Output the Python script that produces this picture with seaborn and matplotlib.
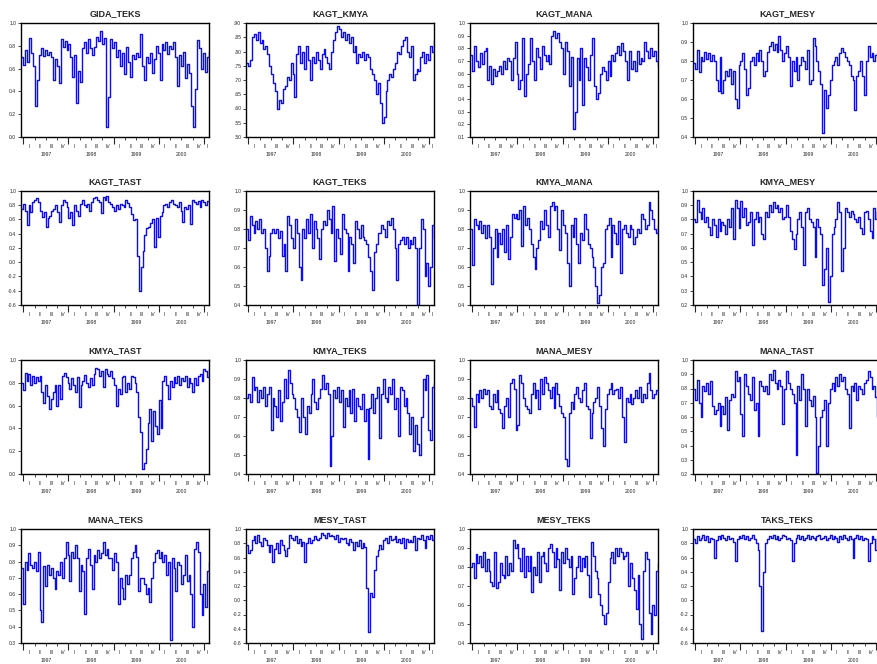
import numpy as np
import pandas as pd
import matplotlib
matplotlib.use("Agg")
import matplotlib.pyplot as plt
import seaborn as sns

# Rolling correlations between sector pairs, sampled along the period
titles = ["GIDA_TEKS", "KAGT_KMYA", "KAGT_MANA", "KAGT_MESY",
          "KAGT_TAST", "KAGT_TEKS", "KMYA_MANA", "KMYA_MESY",
          "KMYA_TAST", "KMYA_TEKS", "MANA_MESY", "MANA_TAST",
          "MANA_TEKS", "MESY_TAST", "MESY_TEKS", "TAKS_TEKS"]

gida_teks = [0.70, 0.63, 0.76, 0.66, 0.87, 0.74, 0.62, 0.27, 0.50, 0.72,
             0.78, 0.71, 0.76, 0.72, 0.75, 0.70, 0.50, 0.68, 0.62, 0.47,
             0.86, 0.79, 0.84, 0.76, 0.82, 0.70, 0.53, 0.72, 0.30, 0.58,
             0.48, 0.78, 0.83, 0.74, 0.86, 0.78, 0.72, 0.79, 0.88, 0.84,
             0.93, 0.82, 0.87, 0.09, 0.35, 0.86, 0.78, 0.83, 0.70, 0.76,
             0.62, 0.74, 0.55, 0.79, 0.66, 0.53, 0.72, 0.68, 0.74, 0.70,
             0.90, 0.62, 0.50, 0.70, 0.65, 0.74, 0.56, 0.68, 0.80, 0.74,
             0.50, 0.82, 0.76, 0.83, 0.73, 0.80, 0.77, 0.83, 0.70, 0.45,
             0.72, 0.62, 0.75, 0.52, 0.64, 0.56, 0.27, 0.09, 0.42, 0.85,
             0.78, 0.60, 0.74, 0.57, 0.70, 0.75]

kagt_kmya = [0.76, 0.75, 0.77, 0.85, 0.86, 0.84, 0.87, 0.83, 0.84, 0.81,
             0.82, 0.79, 0.75, 0.72, 0.69, 0.66, 0.60, 0.63, 0.62, 0.67,
             0.68, 0.71, 0.70, 0.76, 0.72, 0.64, 0.79, 0.82, 0.76, 0.80,
             0.74, 0.82, 0.77, 0.70, 0.78, 0.76, 0.80, 0.77, 0.74, 0.79,
             0.81, 0.78, 0.76, 0.74, 0.80, 0.84, 0.87, 0.89, 0.88, 0.85,
             0.87, 0.84, 0.86, 0.83, 0.85, 0.80, 0.82, 0.76, 0.79, 0.78,
             0.80, 0.77, 0.79, 0.78, 0.74, 0.72, 0.70, 0.65, 0.69, 0.62,
             0.55, 0.57, 0.66, 0.70, 0.72, 0.71, 0.74, 0.76, 0.80, 0.79,
             0.82, 0.84, 0.85, 0.80, 0.78, 0.82, 0.70, 0.72, 0.74, 0.73,
             0.78, 0.80, 0.76, 0.79, 0.77, 0.82, 0.80, 0.84]

kagt_mana = [0.75, 0.62, 0.82, 0.70, 0.65, 0.76, 0.68, 0.78, 0.80, 0.55,
             0.66, 0.52, 0.64, 0.58, 0.62, 0.66, 0.60, 0.70, 0.64, 0.72,
             0.70, 0.55, 0.72, 0.85, 0.60, 0.48, 0.55, 0.88, 0.42, 0.60,
             0.68, 0.88, 0.70, 0.55, 0.80, 0.73, 0.64, 0.82, 0.75, 0.70,
             0.75, 0.68, 0.90, 0.94, 0.88, 0.92, 0.85, 0.80, 0.60, 0.85,
             0.78, 0.50, 0.73, 0.16, 0.30, 0.72, 0.55, 0.80, 0.35, 0.72,
             0.65, 0.55, 0.75, 0.88, 0.50, 0.40, 0.45, 0.60, 0.65, 0.62,
             0.55, 0.70, 0.58, 0.75, 0.70, 0.76, 0.82, 0.75, 0.84, 0.78,
             0.70, 0.55, 0.78, 0.64, 0.70, 0.62, 0.78, 0.68, 0.72, 0.70,
             0.85, 0.78, 0.72, 0.80, 0.74, 0.78, 0.70, 0.66]

kagt_mesy = [0.79, 0.76, 0.86, 0.74, 0.82, 0.80, 0.85, 0.81, 0.84, 0.80,
             0.83, 0.80, 0.70, 0.64, 0.82, 0.63, 0.70, 0.75, 0.72, 0.76,
             0.68, 0.75, 0.60, 0.55, 0.78, 0.80, 0.84, 0.76, 0.62, 0.66,
             0.80, 0.82, 0.78, 0.84, 0.80, 0.86, 0.80, 0.72, 0.75, 0.85,
             0.88, 0.90, 0.86, 0.89, 0.85, 0.93, 0.86, 0.80, 0.84, 0.88,
             0.82, 0.67, 0.80, 0.75, 0.82, 0.70, 0.78, 0.82, 0.80, 0.76,
             0.86, 0.68, 0.70, 0.92, 0.88, 0.80, 0.75, 0.68, 0.42, 0.65,
             0.55, 0.62, 0.70, 0.78, 0.80, 0.82, 0.78, 0.84, 0.87, 0.85,
             0.82, 0.80, 0.78, 0.72, 0.70, 0.54, 0.72, 0.75, 0.80, 0.72,
             0.62, 0.80, 0.88, 0.82, 0.84, 0.80, 0.83, 0.84, 0.82, 0.84]

kagt_tast = [0.75, 0.82, 0.72, 0.52, 0.80, 0.70, 0.85, 0.87, 0.90, 0.84,
             0.72, 0.64, 0.70, 0.50, 0.62, 0.65, 0.72, 0.75, 0.80, 0.70,
             0.57, 0.80, 0.88, 0.85, 0.78, 0.62, 0.70, 0.52, 0.80, 0.72,
             0.65, 0.82, 0.88, 0.80, 0.78, 0.82, 0.72, 0.85, 0.90, 0.92,
             0.88, 0.85, 0.69, 0.92, 0.88, 0.93, 0.85, 0.82, 0.78, 0.72,
             0.80, 0.75, 0.82, 0.80, 0.78, 0.88, 0.83, 0.78, 0.68, 0.59,
             0.60, 0.09, -0.40, -0.06, 0.16, 0.38, 0.48, 0.50, 0.55, 0.60,
             0.21, 0.62, 0.35, 0.65, 0.70, 0.80, 0.82, 0.78, 0.85, 0.88,
             0.82, 0.80, 0.78, 0.85, 0.72, 0.57, 0.78, 0.75, 0.80, 0.53,
             0.88, 0.85, 0.82, 0.86, 0.78, 0.88, 0.84, 0.80, 0.86, 0.85]

kagt_teks = [0.80, 0.74, 0.87, 0.82, 0.78, 0.84, 0.80, 0.85, 0.78, 0.80,
             0.70, 0.58, 0.66, 0.78, 0.80, 0.78, 0.80, 0.75, 0.79, 0.66,
             0.72, 0.58, 0.87, 0.82, 0.75, 0.70, 0.85, 0.78, 0.60, 0.53,
             0.80, 0.75, 0.85, 0.78, 0.88, 0.70, 0.84, 0.80, 0.75, 0.64,
             0.80, 0.84, 0.82, 0.90, 0.85, 0.78, 0.92, 0.63, 0.80, 0.75,
             0.67, 0.88, 0.80, 0.78, 0.58, 0.76, 0.72, 0.62, 0.84, 0.80,
             0.75, 0.82, 0.76, 0.74, 0.72, 0.65, 0.58, 0.48, 0.68, 0.72,
             0.78, 0.78, 0.82, 0.80, 0.76, 0.84, 0.82, 0.86, 0.80, 0.70,
             0.53, 0.72, 0.74, 0.76, 0.72, 0.76, 0.70, 0.74, 0.72, 0.76,
             0.70, 0.40, 0.70, 0.85, 0.80, 0.55, 0.62, 0.50, 0.60, 0.82,
             0.75]

kmya_mana = [0.80, 0.61, 0.85, 0.82, 0.80, 0.84, 0.78, 0.82, 0.75, 0.82,
             0.76, 0.51, 0.70, 0.80, 0.65, 0.78, 0.72, 0.80, 0.68, 0.82,
             0.64, 0.76, 0.88, 0.86, 0.88, 0.85, 0.90, 0.71, 0.92, 0.82,
             0.86, 0.80, 0.72, 0.65, 0.59, 0.70, 0.74, 0.84, 0.80, 0.90,
             0.82, 0.76, 0.92, 0.94, 0.90, 0.92, 0.80, 0.69, 0.90, 0.82,
             0.78, 0.62, 0.50, 0.82, 0.76, 0.86, 0.72, 0.62, 0.78, 0.74,
             0.88, 0.80, 0.72, 0.70, 0.65, 0.60, 0.50, 0.41, 0.45, 0.60,
             0.62, 0.80, 0.82, 0.86, 0.65, 0.82, 0.78, 0.72, 0.84, 0.57,
             0.80, 0.82, 0.78, 0.76, 0.82, 0.80, 0.72, 0.76, 0.80, 0.78,
             0.88, 0.85, 0.80, 0.82, 0.94, 0.90, 0.85, 0.80, 0.78, 0.82]

kmya_mesy = [0.80, 0.78, 0.94, 0.85, 0.80, 0.88, 0.78, 0.82, 0.75, 0.69,
             0.80, 0.76, 0.68, 0.80, 0.72, 0.78, 0.76, 0.70, 0.80, 0.75,
             0.88, 0.66, 0.94, 0.88, 0.74, 0.93, 0.82, 0.88, 0.76, 0.78,
             0.85, 0.62, 0.80, 0.85, 0.78, 0.82, 0.70, 0.66, 0.85, 0.82,
             0.90, 0.85, 0.92, 0.88, 0.90, 0.85, 0.88, 0.80, 0.82, 0.90,
             0.82, 0.72, 0.66, 0.59, 0.70, 0.80, 0.85, 0.75, 0.48, 0.85,
             0.88, 0.80, 0.78, 0.75, 0.54, 0.80, 0.75, 0.70, 0.34, 0.45,
             0.60, 0.22, 0.40, 0.70, 0.75, 0.80, 0.92, 0.85, 0.44, 0.60,
             0.88, 0.85, 0.82, 0.86, 0.84, 0.80, 0.78, 0.82, 0.74, 0.70,
             0.85, 0.86, 0.80, 0.72, 0.67, 0.88, 0.80, 0.85, 0.90, 0.80]

kmya_tast = [0.80, 0.74, 0.89, 0.82, 0.88, 0.78, 0.86, 0.80, 0.85, 0.82,
             0.86, 0.72, 0.62, 0.78, 0.68, 0.57, 0.66, 0.72, 0.78, 0.60,
             0.78, 0.66, 0.86, 0.89, 0.85, 0.80, 0.75, 0.84, 0.78, 0.72,
             0.85, 0.59, 0.78, 0.82, 0.87, 0.80, 0.76, 0.84, 0.78, 0.88,
             0.93, 0.92, 0.86, 0.90, 0.76, 0.92, 0.88, 0.86, 0.90, 0.84,
             0.78, 0.60, 0.75, 0.70, 0.85, 0.86, 0.72, 0.80, 0.75, 0.86,
             0.85, 0.80, 0.72, 0.50, 0.37, 0.04, 0.10, 0.22, 0.45, 0.57,
             0.29, 0.55, 0.42, 0.35, 0.65, 0.40, 0.82, 0.86, 0.78, 0.66,
             0.82, 0.76, 0.85, 0.80, 0.86, 0.78, 0.84, 0.82, 0.86, 0.76,
             0.84, 0.80, 0.72, 0.84, 0.78, 0.86, 0.88, 0.82, 0.92, 0.90,
             0.85, 0.92]

kmya_teks = [0.80, 0.82, 0.78, 0.91, 0.84, 0.86, 0.78, 0.84, 0.80, 0.86,
             0.76, 0.82, 0.86, 0.63, 0.80, 0.76, 0.70, 0.84, 0.68, 0.78,
             0.90, 0.80, 0.95, 0.88, 0.82, 0.80, 0.74, 0.70, 0.62, 0.80,
             0.70, 0.61, 0.76, 0.72, 0.82, 0.90, 0.78, 0.74, 0.80, 0.85,
             0.92, 0.85, 0.88, 0.82, 0.44, 0.60, 0.84, 0.80, 0.86, 0.78,
             0.84, 0.65, 0.80, 0.76, 0.84, 0.72, 0.85, 0.68, 0.80, 0.76,
             0.74, 0.82, 0.68, 0.74, 0.48, 0.75, 0.82, 0.72, 0.80, 0.86,
             0.59, 0.82, 0.90, 0.80, 0.78, 0.86, 0.82, 0.90, 0.74, 0.80,
             0.60, 0.86, 0.84, 0.76, 0.80, 0.72, 0.61, 0.70, 0.52, 0.66,
             0.56, 0.50, 0.70, 0.90, 0.84, 0.92, 0.63, 0.58, 0.86, 0.88]

mana_mesy = [0.80, 0.76, 0.65, 0.82, 0.78, 0.84, 0.80, 0.85, 0.82, 0.84,
             0.76, 0.74, 0.82, 0.78, 0.84, 0.74, 0.72, 0.64, 0.76, 0.80,
             0.70, 0.88, 0.90, 0.85, 0.63, 0.66, 0.92, 0.88, 0.80, 0.76,
             0.74, 0.72, 0.82, 0.88, 0.80, 0.84, 0.74, 0.90, 0.82, 0.91,
             0.88, 0.84, 0.80, 0.86, 0.75, 0.88, 0.82, 0.76, 0.72, 0.70,
             0.48, 0.44, 0.72, 0.78, 0.74, 0.82, 0.86, 0.80, 0.78, 0.84,
             0.88, 0.76, 0.74, 0.59, 0.72, 0.78, 0.80, 0.86, 0.76, 0.64,
             0.55, 0.74, 0.82, 0.85, 0.88, 0.82, 0.84, 0.85, 0.80, 0.86,
             0.70, 0.57, 0.80, 0.78, 0.82, 0.77, 0.80, 0.84, 0.80, 0.86,
             0.78, 0.82, 0.80, 0.88, 0.93, 0.84, 0.80, 0.82, 0.84, 0.83]

mana_tast = [0.80, 0.72, 0.86, 0.70, 0.60, 0.82, 0.78, 0.84, 0.76, 0.85,
             0.68, 0.62, 0.65, 0.70, 0.54, 0.68, 0.62, 0.74, 0.51, 0.72,
             0.76, 0.74, 0.92, 0.85, 0.88, 0.62, 0.47, 0.90, 0.82, 0.76,
             0.72, 0.88, 0.65, 0.70, 0.47, 0.85, 0.82, 0.78, 0.82, 0.76,
             0.90, 0.86, 0.93, 0.84, 0.80, 0.86, 0.82, 0.55, 0.80, 0.92,
             0.84, 0.80, 0.76, 0.70, 0.33, 0.82, 0.72, 0.90, 0.80, 0.54,
             0.80, 0.72, 0.68, 0.75, 0.60, 0.21, 0.40, 0.60, 0.65, 0.72,
             0.40, 0.70, 0.80, 0.84, 0.78, 0.88, 0.82, 0.90, 0.85, 0.88,
             0.80, 0.76, 0.52, 0.82, 0.78, 0.84, 0.72, 0.82, 0.80, 0.76,
             0.84, 0.86, 0.92, 0.88, 0.80, 0.82, 0.74, 0.60, 0.80, 0.84]

mana_teks = [0.76, 0.54, 0.80, 0.75, 0.85, 0.78, 0.76, 0.80, 0.74, 0.86,
             0.50, 0.43, 0.77, 0.65, 0.78, 0.72, 0.76, 0.70, 0.63, 0.74,
             0.72, 0.80, 0.70, 0.82, 0.92, 0.84, 0.68, 0.86, 0.82, 0.90,
             0.82, 0.62, 0.78, 0.74, 0.48, 0.82, 0.88, 0.78, 0.63, 0.84,
             0.80, 0.87, 0.82, 0.85, 0.92, 0.84, 0.88, 0.82, 0.82, 0.75,
             0.85, 0.80, 0.54, 0.70, 0.64, 0.57, 0.72, 0.66, 0.72, 0.82,
             0.86, 0.90, 0.83, 0.62, 0.70, 0.70, 0.66, 0.60, 0.64, 0.55,
             0.70, 0.80, 0.85, 0.87, 0.82, 0.86, 0.80, 0.84, 0.72, 0.80,
             0.32, 0.82, 0.76, 0.62, 0.80, 0.78, 0.66, 0.72, 0.84, 0.68,
             0.72, 0.60, 0.40, 0.88, 0.92, 0.86, 0.60, 0.47, 0.66, 0.52,
             0.74, 0.80]

mesy_tast = [0.78, 0.66, 0.70, 0.85, 0.90, 0.80, 0.92, 0.82, 0.76, 0.88,
             0.85, 0.78, 0.68, 0.78, 0.54, 0.72, 0.80, 0.66, 0.85, 0.78,
             0.70, 0.62, 0.74, 0.92, 0.88, 0.85, 0.90, 0.80, 0.86, 0.76,
             0.82, 0.54, 0.80, 0.88, 0.80, 0.84, 0.90, 0.86, 0.84, 0.88,
             0.94, 0.92, 0.88, 0.94, 0.90, 0.92, 0.90, 0.86, 0.92, 0.82,
             0.88, 0.86, 0.88, 0.80, 0.78, 0.86, 0.82, 0.70, 0.82, 0.76,
             0.84, 0.74, 0.80, 0.75, 0.17, -0.45, 0.10, 0.05, 0.42, 0.62,
             0.70, 0.78, 0.72, 0.85, 0.88, 0.80, 0.90, 0.84, 0.86, 0.90,
             0.82, 0.86, 0.80, 0.88, 0.74, 0.86, 0.82, 0.84, 0.82, 0.90,
             0.70, 0.88, 0.86, 0.92, 0.84, 0.74, 0.90, 0.86, 0.92, 0.84,
             0.90]

mesy_teks = [0.80, 0.82, 0.74, 0.87, 0.82, 0.86, 0.80, 0.88, 0.78, 0.84,
             0.78, 0.72, 0.70, 0.88, 0.69, 0.72, 0.82, 0.76, 0.74, 0.86,
             0.76, 0.82, 0.78, 0.94, 0.90, 0.92, 0.85, 0.78, 0.90, 0.75,
             0.86, 0.78, 0.86, 0.67, 0.80, 0.76, 0.88, 0.72, 0.86, 0.88,
             0.82, 0.78, 0.90, 0.92, 0.88, 0.80, 0.90, 0.84, 0.68, 0.88,
             0.82, 0.90, 0.84, 0.80, 0.86, 0.66, 0.74, 0.80, 0.86, 0.78,
             0.85, 0.80, 0.86, 0.76, 0.64, 0.93, 0.86, 0.78, 0.74, 0.66,
             0.60, 0.55, 0.50, 0.56, 0.72, 0.85, 0.88, 0.82, 0.90, 0.86,
             0.90, 0.88, 0.84, 0.86, 0.88, 0.70, 0.82, 0.74, 0.68, 0.58,
             0.76, 0.50, 0.42, 0.78, 0.88, 0.84, 0.56, 0.45, 0.60, 0.55,
             0.78, 0.82]

taks_teks = [0.86, 0.80, 0.90, 0.84, 0.88, 0.92, 0.85, 0.90, 0.82, 0.88,
             0.86, 0.60, 0.84, 0.90, 0.86, 0.92, 0.88, 0.84, 0.90, 0.86,
             0.88, 0.82, 0.55, 0.86, 0.90, 0.88, 0.92, 0.86, 0.90, 0.84,
             0.88, 0.92, 0.86, 0.80, 0.70, 0.20, -0.43, 0.40, 0.80, 0.86,
             0.90, 0.88, 0.92, 0.86, 0.90, 0.84, 0.88, 0.92, 0.90, 0.86,
             0.88, 0.84, 0.55, 0.80, 0.88, 0.92, 0.86, 0.90, 0.84, 0.88,
             0.92, 0.86, 0.90, 0.88, 0.84, 0.90, 0.92, 0.86, 0.88, 0.90,
             0.84, 0.88, 0.92, 0.86, 0.90, 0.88, 0.82, 0.90, 0.86, 0.92,
             0.88, 0.84, 0.90, 0.86, 0.60, 0.88, 0.92, 0.86, 0.90, 0.84,
             0.88, 0.86, 0.55, 0.80, 0.90, 0.86, 0.70, 0.88, 0.84, 0.88]

series = [gida_teks, kagt_kmya, kagt_mana, kagt_mesy,
          kagt_tast, kagt_teks, kmya_mana, kmya_mesy,
          kmya_tast, kmya_teks, mana_mesy, mana_tast,
          mana_teks, mesy_tast, mesy_teks, taks_teks]

# y-axis (low, high, step) for each panel
y_axes = [(0.0, 1.0, 0.2), (0.50, 0.90, 0.05), (0.1, 1.0, 0.1), (0.4, 1.0, 0.1),
          (-0.6, 1.0, 0.2), (0.4, 1.0, 0.1), (0.4, 1.0, 0.1), (0.2, 1.0, 0.1),
          (0.0, 1.0, 0.2), (0.4, 1.0, 0.1), (0.4, 1.0, 0.1), (0.2, 1.0, 0.1),
          (0.3, 1.0, 0.1), (-0.6, 1.0, 0.2), (0.4, 1.0, 0.1), (-0.6, 1.0, 0.2)]

years = [1997, 1998, 1999, 2000]
quarters = ["I", "II", "III", "IV"]
t_start, t_end = 1996.95, 2001.11

sns.set_theme(style="ticks")
plt.rcParams["font.family"] = ["Liberation Sans", "DejaVu Sans"]

W_PX, H_PX = 877, 664
fig = plt.figure(figsize=(W_PX / 100, H_PX / 100), dpi=100)
fig.patch.set_facecolor("white")

col_left = [21, 246, 470, 693]
row_top = [23, 191, 360, 529]
aw, ah = 188, 114
line_color = "#0a0aff"
tick_fs = 3.6


def fmt_tick(v, step):
    if step < 0.1:
        s = f"{v:.2f}"
        return s[1:] if s.startswith("0") else s
    s = f"{v:.1f}"
    return "0.0" if s == "-0.0" else s


for i, (name, vals, (lo, hi, step)) in enumerate(zip(titles, series, y_axes)):
    r, c = divmod(i, 4)
    ax = fig.add_axes([col_left[c] / W_PX, 1 - (row_top[r] + ah) / H_PX,
                       aw / W_PX, ah / H_PX])
    df = pd.DataFrame({"t": np.linspace(t_start, t_end, len(vals)), "rho": vals})
    sns.lineplot(data=df, x="t", y="rho", ax=ax, color=line_color,
                 linewidth=1.0, estimator=None, drawstyle="steps-post")

    ax.set_xlim(t_start, t_end)
    ax.set_ylim(lo, hi)
    yt = np.round(np.arange(lo, hi + step / 2, step), 4)
    ax.set_yticks(yt)
    ax.set_yticklabels([fmt_tick(v, step) for v in yt], fontsize=tick_fs)
    ax.tick_params(axis="y", direction="out", length=2.5, width=0.6, pad=1)

    ax.set_xticks([1997, 1998, 1999, 2000, 2001])
    ax.set_xticks([y + q * 0.25 for y in years + [2001] for q in (1, 2, 3)
                   if y + q * 0.25 < t_end], minor=True)
    ax.tick_params(axis="x", which="major", direction="out", length=5,
                   width=0.8, labelbottom=False)
    ax.tick_params(axis="x", which="minor", direction="out", length=2.5,
                   width=0.6, labelbottom=False)

    trans = ax.get_xaxis_transform()
    for y in years:
        for q, lab in enumerate(quarters):
            ax.text(y + q * 0.25 + 0.125, -0.08, lab, transform=trans,
                    ha="center", va="center", fontsize=tick_fs)
        ax.text(y + 0.5, -0.15, str(y), transform=trans,
                ha="center", va="center", fontsize=tick_fs)
    # first quarter of 2001, shown where the panel's right edge is on the page
    if c < 3:
        ax.text(2001.08, -0.08, "I", transform=trans, ha="center",
                va="center", fontsize=tick_fs)

    ax.set_xlabel("")
    ax.set_ylabel("")
    for sp in ax.spines.values():
        sp.set_visible(True)
        sp.set_linewidth(1.0)
        sp.set_color("black")
    ax.set_title(name, fontsize=6.5, fontweight="bold", pad=5)

fig.savefig("out.png", dpi=100)
